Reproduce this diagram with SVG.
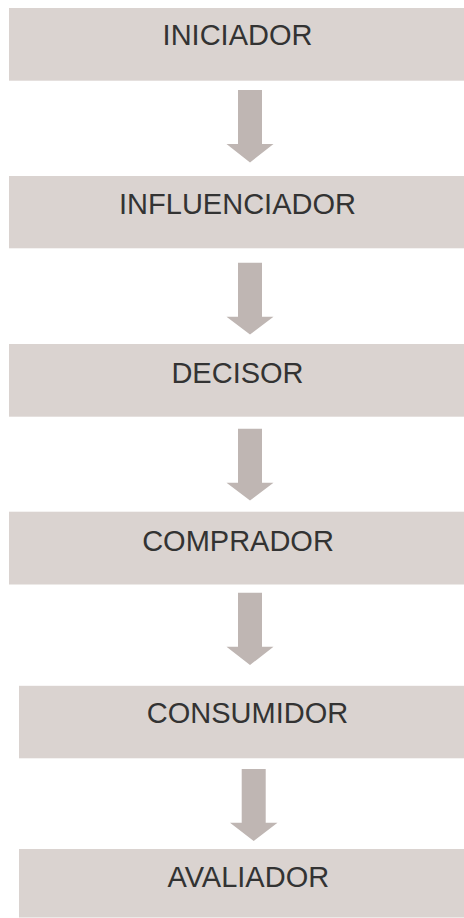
<svg xmlns="http://www.w3.org/2000/svg" width="464" height="918" viewBox="0 0 464 918">
<defs>
<style>
.box{fill:#dad3d0}
.lbl{font-family:"Liberation Sans",Arial,Helvetica,sans-serif;font-size:29px;fill:#333333;text-anchor:middle}
.arr{fill:#bfb6b3}
</style>
</defs>
<rect width="464" height="918" fill="#ffffff"/>
<g id="connectors">
<polygon class="arr" points="238,90 262,90 262,144 273.5,144 250,162.5 226.5,144 238,144"/>
<polygon class="arr" points="238,262.7 262,262.7 262,316.7 273.5,316.7 250,334.5 226.5,316.7 238,316.7"/>
<polygon class="arr" points="238,428.7 262,428.7 262,482.7 273.5,482.7 250,500.5 226.5,482.7 238,482.7"/>
<polygon class="arr" points="238,592.7 262,592.7 262,646.7 273.5,646.7 250,665 226.5,646.7 238,646.7"/>
<polygon class="arr" points="241.7,769 265.7,769 265.7,822.7 277.5,822.7 253.7,841 230,822.7 241.7,822.7"/>
</g>
<g id="iniciador">
<rect class="box" x="9" y="8" width="457" height="72.7"/>
<text class="lbl" x="237.5" y="45">INICIADOR</text>
</g>
<g id="influenciador">
<rect class="box" x="9" y="176" width="457" height="72.3"/>
<text class="lbl" x="237.5" y="213.5">INFLUENCIADOR</text>
</g>
<g id="decisor">
<rect class="box" x="9" y="344" width="457" height="72.7"/>
<text class="lbl" x="237.5" y="382.5">DECISOR</text>
</g>
<g id="comprador">
<rect class="box" x="9" y="511.7" width="457" height="72.8"/>
<text class="lbl" x="238" y="551">COMPRADOR</text>
</g>
<g id="consumidor">
<rect class="box" x="19" y="685.8" width="457" height="72.5"/>
<text class="lbl" x="247.5" y="723.3">CONSUMIDOR</text>
</g>
<g id="avaliador">
<rect class="box" x="19" y="849" width="457" height="68.5"/>
<text class="lbl" x="248.3" y="886.7">AVALIADOR</text>
</g>
</svg>
